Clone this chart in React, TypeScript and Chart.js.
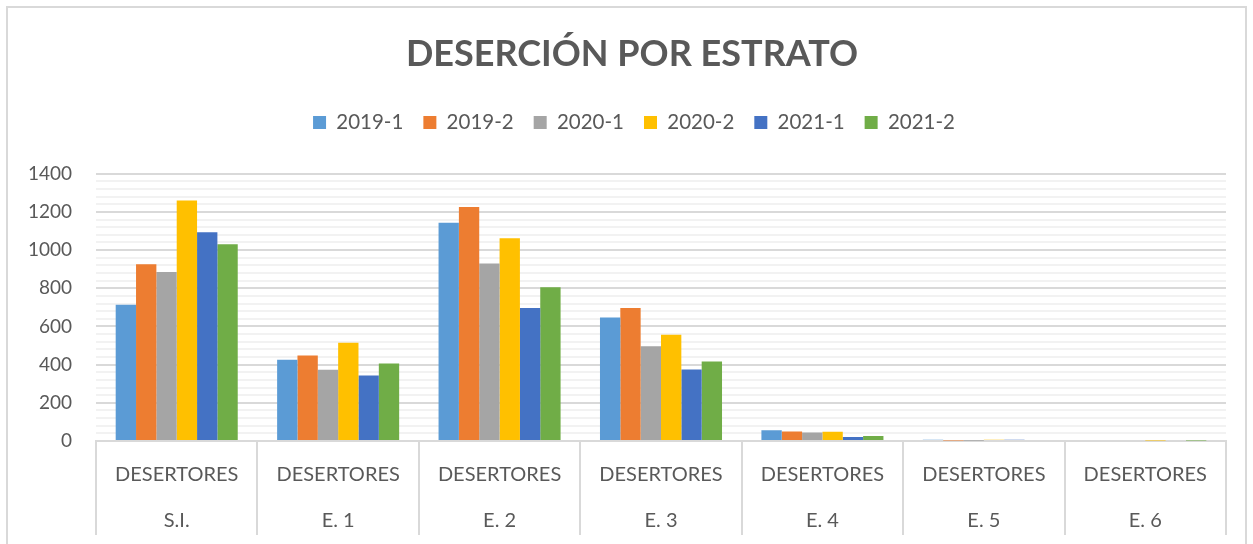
import React, { useEffect, useRef } from "react";
import { Chart, registerables } from "chart.js";

Chart.register(...registerables);

const categories = ["S.I.", "E. 1", "E. 2", "E. 3", "E. 4", "E. 5", "E. 6"];
const groupLabel = "DESERTORES";
const seriesNames = ["2019-1", "2019-2", "2020-1", "2020-2", "2021-1", "2021-2"];
const s2019_1 = [714, 425, 1143, 647, 56, 6, 0];
const s2019_2 = [926, 448, 1225, 696, 50, 2, 0];
const s2020_1 = [885, 373, 930, 496, 45, 1, 0];
const s2020_2 = [1260, 515, 1062, 557, 48, 6, 2];
const s2021_1 = [1093, 343, 697, 375, 21, 6, 0];
const s2021_2 = [1031, 406, 805, 416, 26, 0, 2];
const seriesColors = ["#5B9BD5", "#ED7D31", "#A5A5A5", "#FFC000", "#4472C4", "#70AD47"];
const yTicks = { min: 0, max: 1400, major: 200, minor: 40 };

const FONT = "Lato, 'Open Sans', sans-serif";
const TXT = "#595959";

const layoutTweaks = {
  id: "layoutTweaks",
  beforeInit(chart: any) {
    const lg = chart.legend;
    if (!lg) return;
    const orig = lg.fit;
    lg.fit = function () {
      orig.call(this);
      this.height += 31;
    };
  },
  afterLayout(chart: any) {
    const t = chart.titleBlock;
    if (t) {
      t.left += 15;
      t.right += 15;
    }
    const lg = chart.legend;
    if (lg) {
      lg.left += 17;
      lg.right += 17;
    }
  },
};

export default function App() {
  const ref = useRef<HTMLCanvasElement | null>(null);
  useEffect(() => {
    if (!ref.current) return;
    const values = [s2019_1, s2019_2, s2020_1, s2020_2, s2021_1, s2021_2];
    const chart = new Chart(ref.current, {
      type: "bar",
      data: {
        labels: categories.map((c) => [groupLabel, c]),
        datasets: seriesNames.map((n, i) => ({
          label: n,
          data: values[i],
          backgroundColor: seriesColors[i],
          borderWidth: 0,
          categoryPercentage: 0.756,
          barPercentage: 1,
        })),
      },
      plugins: [layoutTweaks],
      options: {
        animation: false,
        responsive: true,
        maintainAspectRatio: false,
        layout: { padding: { left: 0, right: 19, top: 0, bottom: 9 } },
        plugins: {
          title: {
            display: true,
            text: "DESERCIÓN POR ESTRATO",
            color: TXT,
            font: { family: FONT, size: 36, weight: "bold", lineHeight: 1.2 },
            padding: { top: 25, bottom: 16 },
          },
          legend: {
            position: "top",
            labels: {
              boxWidth: 13,
              boxHeight: 13,
              color: TXT,
              font: { family: FONT, size: 20.5 },
              padding: 20,
            },
          },
          tooltip: { enabled: false },
        },
        scales: {
          x: {
            grid: {
              display: true,
              offset: true,
              drawOnChartArea: false,
              drawTicks: true,
              tickLength: 94,
              color: "#d9d9d9",
              lineWidth: 2,
            },
            border: { display: true, color: "#d9d9d9", width: 2 },
            ticks: {
              color: TXT,
              font: { family: FONT, size: 20, lineHeight: 2.3 },
              padding: -83,
              maxRotation: 0,
              autoSkip: false,
            },
            afterFit: (s: any) => {
              s.height = 94;
            },
          },
          y: {
            min: yTicks.min,
            max: yTicks.max,
            border: { display: false },
            grid: {
              drawTicks: false,
              color: (ctx: any) => (ctx.tick && ctx.tick.value % yTicks.major === 0 ? "#d9d9d9" : "#f2f2f2"),
              lineWidth: 2,
            },
            ticks: {
              stepSize: yTicks.minor,
              autoSkip: false,
              color: TXT,
              font: { family: FONT, size: 19 },
              padding: 24,
              callback: (v: any) => (Number(v) % yTicks.major === 0 ? String(v) : ""),
            },
            afterFit: (s: any) => {
              s.width = 88;
            },
          },
        },
      },
    });
    return () => chart.destroy();
  }, []);
  return (
    <div
      style={{
        position: "absolute",
        left: 6,
        top: 6,
        width: 1237,
        height: 540,
        border: "2px solid #d9d9d9",
        background: "#fff",
      }}
    >
      <div style={{ position: "relative", width: 1237, height: 536 }}>
        <canvas ref={ref} />
      </div>
    </div>
  );
}
